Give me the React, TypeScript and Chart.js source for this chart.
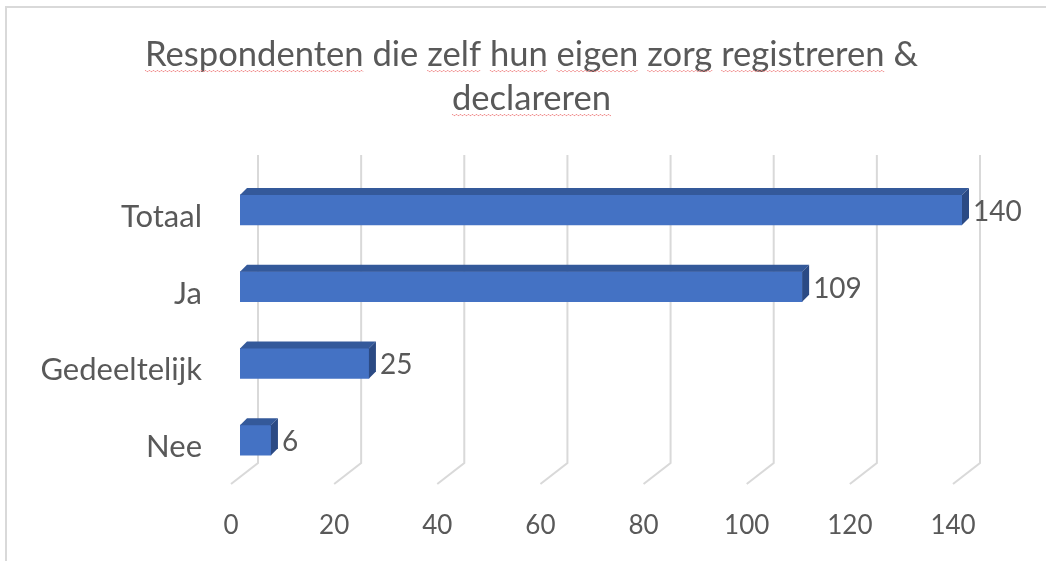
import React, { useEffect, useRef } from "react";
import { Chart, registerables } from "chart.js";

Chart.register(...registerables);

const titleLines = ["Respondenten die zelf hun eigen zorg registreren &", "declareren"];
const categories = ["Totaal", "Ja", "Gedeeltelijk", "Nee"];
const values = [140, 109, 25, 6];
const xTicks = [0, 20, 40, 60, 80, 100, 120, 140];
const misspelled = ["Respondenten", "zelf", "hun", "eigen", "zorg", "registreren", "declareren"];

const FONT = "Lato, 'Open Sans', sans-serif";
const TEXT = "#595959";
const GRID = "#d9d9d9";
const FRONT = "#4472C4";
const TOP = "#34599a";
const SIDE = "#2b4a84";
const DX = 7;
const DY = 7;

const decorPlugin = {
  id: "decor",
  afterLayout(chart: any) {
    const tb = chart.titleBlock;
    if (tb) {
      tb.left = 17;
      tb.right = chart.width;
      tb.width = tb.right - tb.left;
    }
  },
  beforeDraw(chart: any) {
    const ctx = chart.ctx;
    ctx.save();
    ctx.fillStyle = "#ffffff";
    ctx.fillRect(0, 0, chart.width, chart.height);
    ctx.strokeStyle = GRID;
    ctx.lineWidth = 2;
    ctx.beginPath();
    ctx.moveTo(6, chart.height);
    ctx.lineTo(6, 7);
    ctx.lineTo(chart.width, 7);
    ctx.stroke();
    ctx.restore();
  },
  beforeDatasetsDraw(chart: any) {
    const ctx = chart.ctx;
    const xs = chart.scales.x;
    const area = chart.chartArea;
    ctx.save();
    ctx.strokeStyle = GRID;
    ctx.lineWidth = 2;
    const top = area.top - 16.5;
    const bot = area.bottom - 15.5;
    xTicks.forEach((v) => {
      const px = xs.getPixelForValue(v);
      ctx.beginPath();
      ctx.moveTo(px + 18, top);
      ctx.lineTo(px + 18, bot);
      ctx.lineTo(px - 9, bot + 21);
      ctx.stroke();
    });
    ctx.restore();
  },
  afterDatasetsDraw(chart: any) {
    const ctx = chart.ctx;
    const meta = chart.getDatasetMeta(0);
    ctx.save();
    meta.data.forEach((bar: any, i: number) => {
      const p = bar.getProps(["x", "y", "base", "height"], true);
      const t = p.y - p.height / 2;
      const b = p.y + p.height / 2;
      ctx.fillStyle = TOP;
      ctx.beginPath();
      ctx.moveTo(p.base, t);
      ctx.lineTo(p.base + DX, t - DY);
      ctx.lineTo(p.x + DX, t - DY);
      ctx.lineTo(p.x, t);
      ctx.closePath();
      ctx.fill();
      ctx.fillStyle = SIDE;
      ctx.beginPath();
      ctx.moveTo(p.x, t);
      ctx.lineTo(p.x + DX, t - DY);
      ctx.lineTo(p.x + DX, b - DY);
      ctx.lineTo(p.x, b);
      ctx.closePath();
      ctx.fill();
      ctx.fillStyle = TEXT;
      ctx.font = `28px ${FONT}`;
      ctx.textAlign = "left";
      ctx.textBaseline = "middle";
      ctx.fillText(String(values[i]), p.x + DX + 4, p.y + 2);
    });
    ctx.restore();
  },
  afterDraw(chart: any) {
    const ctx = chart.ctx;
    const tb = chart.titleBlock;
    if (!tb) return;
    const opts = chart.options.plugins.title;
    const size = opts.font.size;
    const lh = size * opts.font.lineHeight;
    ctx.save();
    ctx.font = `${size}px ${FONT}`;
    ctx.strokeStyle = "#f08c8c";
    ctx.lineWidth = 1;
    const centerX = (tb.left + tb.right) / 2;
    titleLines.forEach((line, li) => {
      const w = ctx.measureText(line).width;
      const startX = centerX - w / 2;
      const yMid = tb.top + opts.padding.top + lh * li + lh / 2;
      const yLine = yMid + size * 0.45;
      const words = line.split(" ");
      let offset = 0;
      words.forEach((word) => {
        const ww = ctx.measureText(word).width;
        if (misspelled.includes(word)) {
          const x0 = startX + offset;
          ctx.beginPath();
          for (let x = 0; x <= ww; x += 1) {
            const y = yLine + (Math.floor(x / 2) % 2 === 0 ? 0 : 1);
            if (x === 0) ctx.moveTo(x0 + x, y);
            else ctx.lineTo(x0 + x, y);
          }
          ctx.stroke();
        }
        offset += ww + ctx.measureText(" ").width;
      });
    });
    ctx.restore();
  },
};

export default function App() {
  const ref = useRef<HTMLCanvasElement | null>(null);
  useEffect(() => {
    if (!ref.current) return;
    const chart = new Chart(ref.current, {
      type: "bar",
      data: {
        labels: categories,
        datasets: [
          {
            data: values,
            backgroundColor: FRONT,
            borderWidth: 0,
            barThickness: 30,
          },
        ],
      },
      options: {
        indexAxis: "y",
        animation: false,
        responsive: false,
        layout: { padding: { top: 0, right: 84, bottom: 0, left: 0 } },
        plugins: {
          legend: { display: false },
          tooltip: { enabled: false },
          title: {
            display: true,
            text: titleLines,
            color: TEXT,
            font: { family: FONT, size: 34.6, weight: "normal", lineHeight: 44 / 34.6 },
            padding: { top: 33, bottom: 50.5 },
          },
        },
        scales: {
          x: {
            min: 0,
            max: 140,
            afterBuildTicks: (s: any) => {
              s.ticks = xTicks.map((v) => ({ value: v }));
            },
            afterFit: (s: any) => {
              s.height = 82.5;
            },
            grid: { display: false, drawTicks: false },
            border: { display: false },
            ticks: {
              color: TEXT,
              font: { family: FONT, size: 26 },
              padding: 32,
              labelOffset: -9,
              autoSkip: false,
              maxRotation: 0,
            },
          },
          y: {
            afterFit: (s: any) => {
              s.width = 240;
            },
            grid: { display: false, drawTicks: false },
            border: { display: false },
            ticks: {
              color: TEXT,
              font: { family: FONT, size: 31 },
              padding: 38,
              labelOffset: 7,
            },
          },
        },
      },
      plugins: [decorPlugin],
    } as any);
    return () => chart.destroy();
  }, []);
  return (
    <div style={{ position: "fixed", left: 0, top: 0, width: 1046, height: 561, background: "#fff" }}>
      <canvas ref={ref} width={1046} height={561} style={{ display: "block" }} />
    </div>
  );
}
